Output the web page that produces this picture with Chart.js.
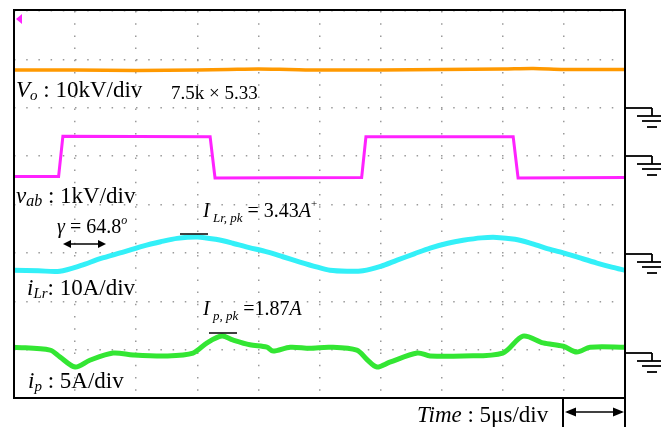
<!DOCTYPE html>
<html>
<head>
<meta charset="utf-8">
<script src="https://cdn.jsdelivr.net/npm/chart.js@4/dist/chart.umd.min.js"></script>
<style>
  html, body { margin: 0; padding: 0; background: #fff; }
  #wrap { width: 661px; height: 431px; }
</style>
</head>
<body>
<div id="wrap"><canvas id="scope" width="661" height="431"></canvas></div>
<script>
// time axis in divisions (5us/div), vertical axis in screen divisions
const xDivs = 10
const yDivs = 8

// Vo (orange)
const voT = [0, 1, 2, 3, 3.5, 4, 4.5, 5, 6, 7, 8, 8.5, 9, 10]
const voV = [6.78, 6.78, 6.77, 6.78, 6.79, 6.8, 6.79, 6.78, 6.78, 6.79, 6.8, 6.81, 6.79, 6.79]

// vab (magenta)
const vabT = [0, 0.73, 0.8, 3.21, 3.29, 5.69, 5.76, 8.17, 8.25, 10]
const vabV = [4.58, 4.58, 5.41, 5.40, 4.55, 4.56, 5.40, 5.40, 4.55, 4.56]

// iLr (cyan)
const ilrT = [0, 0.4, 0.75, 1.1, 1.41, 1.8, 2.11, 2.4, 2.67, 3.0, 3.3, 3.58, 3.85, 4.14, 4.4, 4.68, 4.95, 5.17, 5.45, 5.71, 6.0, 6.27, 6.55, 6.81, 7.1, 7.35, 7.65, 7.9, 8.2, 8.45, 8.7, 8.99, 9.25, 9.54, 9.8, 10]
const ilrV = [2.64, 2.63, 2.62, 2.74, 2.88, 3.02, 3.14, 3.23, 3.30, 3.33, 3.28, 3.20, 3.11, 3.02, 2.92, 2.81, 2.71, 2.64, 2.62, 2.63, 2.72, 2.85, 2.98, 3.10, 3.2, 3.26, 3.31, 3.32, 3.28, 3.20, 3.10, 3.00, 2.90, 2.79, 2.70, 2.64]

// ip (green)
const ipT = [0, 0.59, 0.75, 1.0, 1.24, 1.62, 1.95, 2.5, 2.93, 3.16, 3.4, 3.58, 3.86, 4.14, 4.24, 4.52, 4.84, 5.17, 5.61, 5.78, 5.94, 6.15, 6.6, 6.81, 7.35, 8.0, 8.33, 8.66, 8.99, 9.21, 9.43, 10]
const ipV = [1.05, 0.99, 0.85, 0.64, 0.78, 0.93, 0.89, 0.87, 0.93, 1.14, 1.28, 1.20, 1.10, 1.05, 0.97, 1.05, 1.03, 1.05, 0.99, 0.79, 0.64, 0.74, 0.93, 0.87, 0.87, 0.93, 1.28, 1.14, 1.07, 0.95, 1.05, 1.05]

const pts = (t, v) => t.map((x, i) => ({ x: x, y: v[i] }))
const SERIF = '"Liberation Serif", "Times New Roman", serif'

function runs(ctx, x, y, parts) {
  for (const p of parts) {
    ctx.font = (p.i ? 'italic ' : '') + p.s + 'px ' + SERIF
    ctx.fillText(p.t, x, y + (p.dy || 0))
    x += ctx.measureText(p.t).width
  }
}

function line(ctx, x1, y1, x2, y2) {
  ctx.beginPath()
  ctx.moveTo(x1, y1)
  ctx.lineTo(x2, y2)
  ctx.stroke()
}

function dblArrow(ctx, x1, x2, y, len, h) {
  line(ctx, x1 + 2, y, x2 - 2, y)
  ctx.beginPath()
  ctx.moveTo(x1, y); ctx.lineTo(x1 + len, y - h); ctx.lineTo(x1 + len, y + h); ctx.closePath()
  ctx.moveTo(x2, y); ctx.lineTo(x2 - len, y - h); ctx.lineTo(x2 - len, y + h); ctx.closePath()
  ctx.fill()
}

function ground(ctx, x0, y) {
  line(ctx, x0, y, 652, y)
  line(ctx, 652, y, 652, y + 8)
  line(ctx, 637, y + 8, 661, y + 8)
  line(ctx, 642, y + 13, 661, y + 13)
  line(ctx, 647, y + 19, 657, y + 19)
}

const overlay = {
  id: 'overlay',
  afterDatasetsDraw(chart) {
    const ctx = chart.ctx
    const a = chart.chartArea
    ctx.save()
    ctx.strokeStyle = '#000'
    ctx.fillStyle = '#000'

    // frame
    ctx.lineWidth = 2
    ctx.strokeRect(a.left, a.top - 1, a.right - a.left, a.bottom - a.top + 1)
    line(ctx, a.right, a.bottom, a.right, 427)
    line(ctx, 563, a.bottom, 563, 427)

    // ground markers
    ctx.lineWidth = 1.8
    ground(ctx, a.right, 108)
    ground(ctx, a.right, 156)
    ground(ctx, a.right, 254)
    ground(ctx, a.right, 353)

    // trigger marker
    ctx.fillStyle = '#ff22ff'
    ctx.beginPath()
    ctx.moveTo(16, 19); ctx.lineTo(22, 14); ctx.lineTo(22, 24); ctx.closePath()
    ctx.fill()

    // peak markers and arrows
    ctx.fillStyle = '#000'
    ctx.lineWidth = 1.5
    line(ctx, 180, 234, 208, 234)
    line(ctx, 209, 333, 237, 333)
    dblArrow(ctx, 63, 106, 244, 8, 4)
    dblArrow(ctx, 565, 624, 412, 11, 4.5)

    // labels
    ctx.textBaseline = 'alphabetic'
    runs(ctx, 16, 97, [{ t: 'V', i: 1, s: 23 }, { t: 'o', i: 1, s: 15, dy: 3 }, { t: ' : 10kV/div', s: 23 }])
    runs(ctx, 171, 99, [{ t: '7.5k × 5.33', s: 19 }])
    runs(ctx, 16, 203, [{ t: 'v', i: 1, s: 23 }, { t: 'ab', i: 1, s: 16, dy: 3 }, { t: ' : 1kV/div', s: 23 }])
    runs(ctx, 203, 217, [{ t: 'I', i: 1, s: 20 }, { t: ' Lr, pk', i: 1, s: 13, dy: 5 }, { t: ' = 3.43', s: 20 }, { t: 'A', i: 1, s: 20 }, { t: '+', s: 11, dy: -10 }])
    runs(ctx, 57, 233, [{ t: 'γ', i: 1, s: 20 }, { t: ' = 64.8', s: 20 }, { t: 'o', i: 1, s: 12, dy: -9 }])
    runs(ctx, 27, 295, [{ t: 'i', i: 1, s: 23 }, { t: 'Lr', i: 1, s: 15, dy: 3 }, { t: ': 10A/div', s: 23 }])
    runs(ctx, 203, 315, [{ t: 'I', i: 1, s: 20 }, { t: ' p, pk', i: 1, s: 13, dy: 5 }, { t: ' =1.87', s: 20 }, { t: 'A', i: 1, s: 20 }])
    runs(ctx, 28, 388, [{ t: 'i', i: 1, s: 23 }, { t: 'p', i: 1, s: 15, dy: 3 }, { t: ' : 5A/div', s: 23 }])
    runs(ctx, 417, 422, [{ t: 'Time', i: 1, s: 23 }, { t: ' : 5μs/div', s: 23 }])
    ctx.restore()
  }
}

const trace = (label, t, v, color, width) => ({
  label: label,
  data: pts(t, v),
  borderColor: color,
  borderWidth: width,
  pointRadius: 0,
  tension: 0.3,
  fill: false
})

new Chart(document.getElementById('scope'), {
  type: 'line',
  data: {
    datasets: [
      trace('Vo', voT, voV, '#ff9900', 3.5),
      Object.assign(trace('vab', vabT, vabV, '#ff22ff', 3), { tension: 0 }),
      trace('iLr', ilrT, ilrV, '#33f0f8', 5),
      trace('ip', ipT, ipV, '#33e633', 5)
    ]
  },
  options: {
    responsive: false,
    animation: false,
    layout: { padding: { left: 14, right: 36, top: 11, bottom: 33 } },
    plugins: { legend: { display: false }, tooltip: { enabled: false } },
    scales: {
      x: {
        type: 'linear', min: 0, max: xDivs,
        ticks: { display: false, stepSize: 1 },
        grid: { color: '#9a9a9a', lineWidth: 1.5, drawTicks: false },
        border: { display: false, dash: [1.5, 10.7] }
      },
      y: {
        type: 'linear', min: 0, max: yDivs,
        ticks: { display: false, stepSize: 1 },
        grid: { color: '#9a9a9a', lineWidth: 1.5, drawTicks: false },
        border: { display: false, dash: [1.5, 10.7] }
      }
    }
  },
  plugins: [overlay]
})
</script>
</body>
</html>
